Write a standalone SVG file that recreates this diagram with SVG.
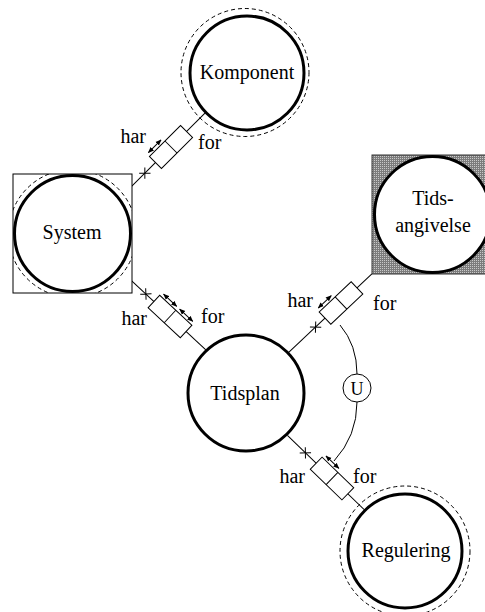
<svg xmlns="http://www.w3.org/2000/svg" width="485" height="612" viewBox="0 0 485 612">
<style>
.node{fill:#fff;stroke:#000;stroke-width:3}
.dash{fill:none;stroke:#000;stroke-width:1;stroke-dasharray:4 3}
.ln{fill:none;stroke:#000;stroke-width:1}
.box{fill:#fff;stroke:#000;stroke-width:1}
.arr{stroke:#000;stroke-width:1;marker-start:url(#ah);marker-end:url(#ah)}
</style>
<defs>
<marker id="ah" viewBox="0 0 6 6" refX="5.5" refY="3" markerWidth="6" markerHeight="6" markerUnits="userSpaceOnUse" orient="auto-start-reverse">
<path d="M0,0.5 L6,3 L0,5.5 Z" fill="#000"/>
</marker>
<pattern id="dither" width="2" height="2" patternUnits="userSpaceOnUse">
<rect width="2" height="2" fill="#7c7c7c"/>
<rect width="1" height="1" fill="#c8c8c8"/>
</pattern>
<clipPath id="sysclip"><rect x="13" y="174" width="119" height="119"/></clipPath>
</defs>
<g font-family="Liberation Serif, Tinos, Times New Roman, Times, DejaVu Serif, Noto Serif, serif" font-size="20" fill="#000">
<g id="connectors">
<!-- System - Komponent -->
<g transform="translate(171,147) rotate(-45)">
<line class="ln" x1="-72" y1="0" x2="48" y2="0"/>
<path class="ln" d="M-41,-4 L-33,4 M-41,4 L-33,-4"/>
<rect class="box" x="-22" y="-8.5" width="44" height="17"/>
<line class="ln" x1="0" y1="-8.5" x2="0" y2="8.5"/>
<line class="arr" x1="-20" y1="-12" x2="-2" y2="-12"/>
</g>
<!-- System - Tidsplan -->
<g transform="translate(170,316.5) rotate(43)">
<line class="ln" x1="-70" y1="0" x2="49" y2="0"/>
<path class="ln" d="M-37,-4 L-29,4 M-37,4 L-29,-4"/>
<rect class="box" x="-22" y="-8.5" width="44" height="17"/>
<line class="ln" x1="0" y1="-8.5" x2="0" y2="8.5"/>
<line class="arr" x1="-20" y1="-12" x2="-2" y2="-12"/>
<line class="arr" x1="2" y1="-12" x2="20" y2="-12"/>
</g>
<!-- Tidsplan - Tidsangivelse -->
<g transform="translate(341,303) rotate(-43.4)">
<line class="ln" x1="-72" y1="0" x2="42.5" y2="0"/>
<path class="ln" d="M-39,-4 L-31,4 M-39,4 L-31,-4"/>
<rect class="box" x="-22" y="-8.5" width="44" height="17"/>
<line class="ln" x1="0" y1="-8.5" x2="0" y2="8.5"/>
<line class="arr" x1="-20" y1="-12" x2="-2" y2="-12"/>
</g>
<!-- Tidsplan - Regulering -->
<g transform="translate(332,478.5) rotate(44)">
<line class="ln" x1="-62" y1="0" x2="45" y2="0"/>
<path class="ln" d="M-41,-4 L-33,4 M-41,4 L-33,-4"/>
<rect class="box" x="-22" y="-8.5" width="44" height="17"/>
<line class="ln" x1="0" y1="-8.5" x2="0" y2="8.5"/>
<line class="arr" x1="-20" y1="-12" x2="-2" y2="-12"/>
</g>
<!-- U arcs -->
<path class="ln" d="M340,325 Q357,345 357,374"/>
<path class="ln" d="M357,402 Q357,436 334,461"/>
<text x="146" y="143" text-anchor="end">har</text>
<text x="198" y="149">for</text>
<text x="147" y="325" text-anchor="end">har</text>
<text x="201" y="323">for</text>
<text x="313" y="307" text-anchor="end">har</text>
<text x="373" y="310">for</text>
<text x="305" y="483" text-anchor="end">har</text>
<text x="353" y="483">for</text>
</g>

<g id="komponent">
<circle class="dash" cx="245" cy="72.5" r="64"/>
<circle class="node" cx="247" cy="73" r="57"/>
<text x="247" y="79" text-anchor="middle">Komponent</text>
</g>

<g id="system">
<rect x="13" y="174" width="119" height="119" fill="#fff" stroke="#000" stroke-width="1"/>
<circle class="dash" cx="72.5" cy="233.5" r="64" clip-path="url(#sysclip)"/>
<circle class="node" cx="72.5" cy="233.5" r="58"/>
<text x="72" y="239" text-anchor="middle">System</text>
</g>

<g id="tidsangivelse">
<rect x="372" y="155" width="119" height="119" fill="url(#dither)" stroke="#333" stroke-width="1"/>
<circle class="node" cx="432.5" cy="214.5" r="58"/>
<text x="433" y="205" text-anchor="middle">Tids-</text>
<text x="433" y="232" text-anchor="middle">angivelse</text>
</g>

<g id="tidsplan">
<circle class="node" cx="246" cy="393" r="58"/>
<text x="245" y="400" text-anchor="middle">Tidsplan</text>
</g>

<g id="regulering">
<circle class="dash" cx="405" cy="551" r="65"/>
<circle class="node" cx="405" cy="551" r="57"/>
<text x="406" y="557" text-anchor="middle">Regulering</text>
</g>

<g id="u">
<circle class="ln" cx="357" cy="388" r="14" fill="#fff"/>
<text x="357" y="394.5" text-anchor="middle" font-size="18">U</text>
</g>
</g>
</svg>
